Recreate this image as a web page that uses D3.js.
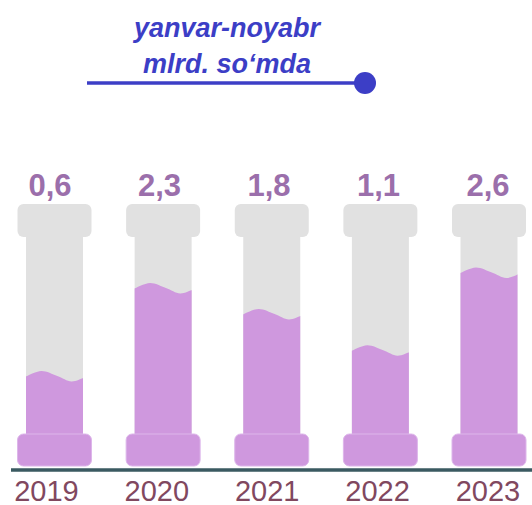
<!DOCTYPE html>
<html>
<head>
<meta charset="utf-8">
<script src="https://cdn.jsdelivr.net/npm/d3@7"></script>
<style>
  html, body { margin: 0; padding: 0; background: #ffffff; }
  svg { display: block; font-family: "Liberation Sans", Arial, sans-serif; }
</style>
</head>
<body>
<svg id="chart" width="532" height="505"></svg>
<script>
const years = ["2019", "2020", "2021", "2022", "2023"];
const values = [0.6, 2.3, 1.8, 1.1, 2.6];
const valueLabels = ["0,6", "2,3", "1,8", "1,1", "2,6"];
const titleLines = ["yanvar-noyabr", "mlrd. so\u2018mda"];

const svg = d3.select("#chart");

// scales
const xBar = d3.scalePoint().domain(years).range([54.5, 489]);
const xVal = d3.scalePoint().domain(years).range([50, 488]);
const xYear = d3.scalePoint().domain(years).range([46.5, 488]);
const y = d3.scaleLinear().domain([0, 3]).range([407.5, 252.4]);

const gray = "#e1e1e1";
const purple = "#cf98de";
const capW = 74, tubeW = 57;
const tubeTop = 236, tubeBottom = 440;

// title
const title = svg.append("g");
title.selectAll("text").data(titleLines).join("text")
  .attr("x", 227)
  .attr("y", (d, i) => 37 + i * 36)
  .attr("text-anchor", "middle")
  .attr("font-size", 27)
  .attr("font-weight", "bold")
  .attr("font-style", "italic")
  .attr("fill", "#3c3ec6")
  .text(d => d);
title.append("line")
  .attr("x1", 87).attr("x2", 365)
  .attr("y1", 83).attr("y2", 83)
  .attr("stroke", "#3c3ec6").attr("stroke-width", 3.5);
title.append("circle")
  .attr("cx", 365).attr("cy", 83).attr("r", 11)
  .attr("fill", "#3c3ec6");

const bars = svg.append("g").selectAll("g").data(years).join("g");

// top cap
bars.append("rect")
  .attr("x", d => xBar(d) - capW / 2)
  .attr("y", 204)
  .attr("width", capW).attr("height", 33)
  .attr("rx", 6)
  .attr("fill", gray);

// tube
bars.append("rect")
  .attr("x", d => xBar(d) - tubeW / 2)
  .attr("y", tubeTop)
  .attr("width", tubeW).attr("height", tubeBottom - tubeTop)
  .attr("fill", gray);

// liquid with wavy top
const wave = d3.line().curve(d3.curveCatmullRom.alpha(0.5));
bars.append("path")
  .attr("fill", purple)
  .attr("d", (d, i) => {
    const x0 = xBar(d) - tubeW / 2;
    const L = y(values[i]);
    const pts = [
      [x0, L],
      [x0 + 0.27 * tubeW, L - 5.5],
      [x0 + 0.55 * tubeW, L - 0.5],
      [x0 + 0.8 * tubeW, L + 5],
      [x0 + tubeW, L + 1.5]
    ];
    return wave(pts) + `L${x0 + tubeW},${tubeBottom}L${x0},${tubeBottom}Z`;
  });

// bottom cap
bars.append("rect")
  .attr("x", d => xBar(d) - capW / 2)
  .attr("y", 434)
  .attr("width", capW).attr("height", 32)
  .attr("rx", 6)
  .attr("fill", purple)
  .attr("stroke", "#ddb6ea")
  .attr("stroke-width", 1);

// value labels
svg.append("g").selectAll("text").data(years).join("text")
  .attr("x", d => xVal(d))
  .attr("y", 196)
  .attr("text-anchor", "middle")
  .attr("font-size", 31)
  .attr("font-weight", "bold")
  .attr("fill", "#9b6fab")
  .text((d, i) => valueLabels[i]);

// baseline
svg.append("line")
  .attr("x1", 11).attr("x2", 532)
  .attr("y1", 470).attr("y2", 470)
  .attr("stroke", "#3a5a61").attr("stroke-width", 3.5);

// year labels
svg.append("g").selectAll("text").data(years).join("text")
  .attr("x", d => xYear(d))
  .attr("y", 501)
  .attr("text-anchor", "middle")
  .attr("font-size", 29)
  .attr("fill", "#81485f")
  .text(d => d);
</script>
</body>
</html>
